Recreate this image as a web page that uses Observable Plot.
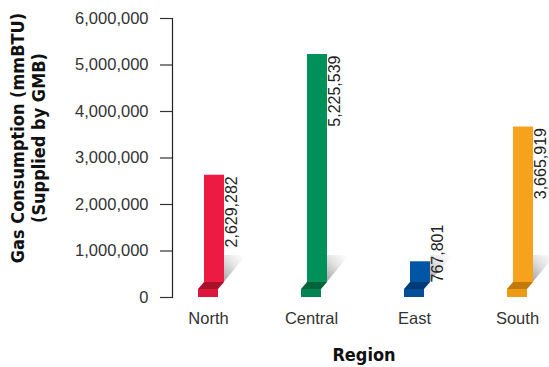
<!DOCTYPE html>
<html>
<head>
<meta charset="utf-8">
<script src="https://cdn.jsdelivr.net/npm/d3@7"></script>
<script src="https://cdn.jsdelivr.net/npm/@observablehq/plot@0.6"></script>
<style>
  html, body { margin: 0; padding: 0; background: #fff; }
  #chart svg { display: block; }
</style>
</head>
<body>
<div id="chart"></div>
<script>
const regions = ["North", "Central", "East", "South"];
const consumption = [2629282, 5225539, 767801, 3665919];
const barColors = ["#ED1A43", "#00905A", "#0055A5", "#F7A21C"];
const foldColors = ["#A8102C", "#006339", "#003A78", "#C27A0C"];
const footColors = ["#DC173D", "#008452", "#004D98", "#EE9A17"];
const yTicks = [0, 1000000, 2000000, 3000000, 4000000, 5000000, 6000000];
const yTitle = "Gas Consumption (mmBTU)\n(Supplied by GMB)";
const xTitle = "Region";

const data = regions.map((r, i) => ({region: r, value: consumption[i], color: barColors[i], i}));

const W = 549, H = 367;
const labelFont = "'Liberation Sans', Arial, sans-serif";
const boldFont = "'Liberation Sans Narrow', 'DejaVu Sans Condensed', 'Liberation Sans', sans-serif";
const fmt = d3.format(",");
const BASE = 15;   // height of folded base (px)
const SHIFT = 6;   // left shift of the folded foot (px)

const chart = Plot.plot({
  width: W,
  height: H,
  marginTop: 18, marginBottom: 70, marginLeft: 172, marginRight: 0,
  style: {fontFamily: labelFont, fontSize: "16px", color: "#333", background: "#fff", overflow: "visible"},
  x: {type: "band", domain: regions, range: [204, 533], paddingInner: 0.806, paddingOuter: 0, axis: null},
  y: {type: "linear", domain: [0, 6000000], axis: null},
  marks: [
    Plot.frame({anchor: "left", stroke: "#222", strokeWidth: 1.2}),
    Plot.axisY({ticks: yTicks, tickFormat: fmt, tickSize: 12, tickPadding: 12, fontSize: 16.5, stroke: "#333", strokeWidth: 1.2, label: null, fill: "#333"}),
    Plot.barY(data, {x: "region", y: "value", fill: "color", insetBottom: BASE}),
    Plot.text(data.filter(d => d.value >= 1500000), {x: "region", y: "value", text: d => fmt(d.value), rotate: -90, textAnchor: "end", lineAnchor: "top", dx: 11, dy: 1, fill: "#222", fontSize: 16}),
    Plot.text(data.filter(d => d.value < 1500000), {x: "region", y: () => 0, text: d => fmt(d.value), rotate: -90, textAnchor: "start", lineAnchor: "top", dx: 11, dy: -BASE, fill: "#222", fontSize: 16}),
    Plot.text(regions, {x: d => d, y: () => 0, text: d => d, dx: -SHIFT, dy: 21, fill: "#333", fontSize: 16.5}),
    Plot.text([xTitle], {frameAnchor: "bottom", text: d => d, dx: 3, dy: 63, fontFamily: boldFont, fontWeight: "bold", fontSize: 18, fill: "#111"}),
    Plot.text([yTitle], {frameAnchor: "left", text: d => d, rotate: -90, textAnchor: "middle", lineAnchor: "middle", dx: -145, dy: -20, lineHeight: 1.2, fontFamily: boldFont, fontWeight: "bold", fontSize: 18, fill: "#111"})
  ]
});

document.getElementById("chart").appendChild(chart);

// 3D folded base and shadow, positioned with the plot's own scales
const svg = d3.select(chart);
const xs = chart.scale("x"), ys = chart.scale("y");
const y0 = ys.apply(0);
const bw = xs.bandwidth;

const defs = svg.insert("defs", ":first-child");
const grad = defs.append("linearGradient").attr("id", "shadowGrad")
  .attr("x1", 0.9).attr("y1", 0).attr("x2", 0.1).attr("y2", 1);
grad.append("stop").attr("offset", 0).attr("stop-color", "#ffffff");
grad.append("stop").attr("offset", 0.35).attr("stop-color", "#e4e4e4");
grad.append("stop").attr("offset", 1).attr("stop-color", "#8f8f8f");

const shadowG = svg.insert("g", "defs + *");
const baseG = svg.append("g");
data.forEach(d => {
  const xl = xs.apply(d.region), xr = xl + bw;
  shadowG.append("polygon")
    .attr("points", [[xr, y0 - 42], [xr + 22, y0 - 42], [xr - SHIFT, y0 - BASE + 7], [xr, y0 - BASE]].map(p => p.join(",")).join(" "))
    .attr("fill", "url(#shadowGrad)");
  baseG.append("polygon")
    .attr("points", [[xl, y0 - BASE], [xr, y0 - BASE], [xr - SHIFT, y0 - BASE + 7], [xl - SHIFT, y0 - BASE + 7]].map(p => p.join(",")).join(" "))
    .attr("fill", foldColors[d.i]);
  baseG.append("rect")
    .attr("x", xl - SHIFT).attr("y", y0 - BASE + 7).attr("width", bw).attr("height", BASE - 7)
    .attr("fill", footColors[d.i]);
});
</script>
</body>
</html>
